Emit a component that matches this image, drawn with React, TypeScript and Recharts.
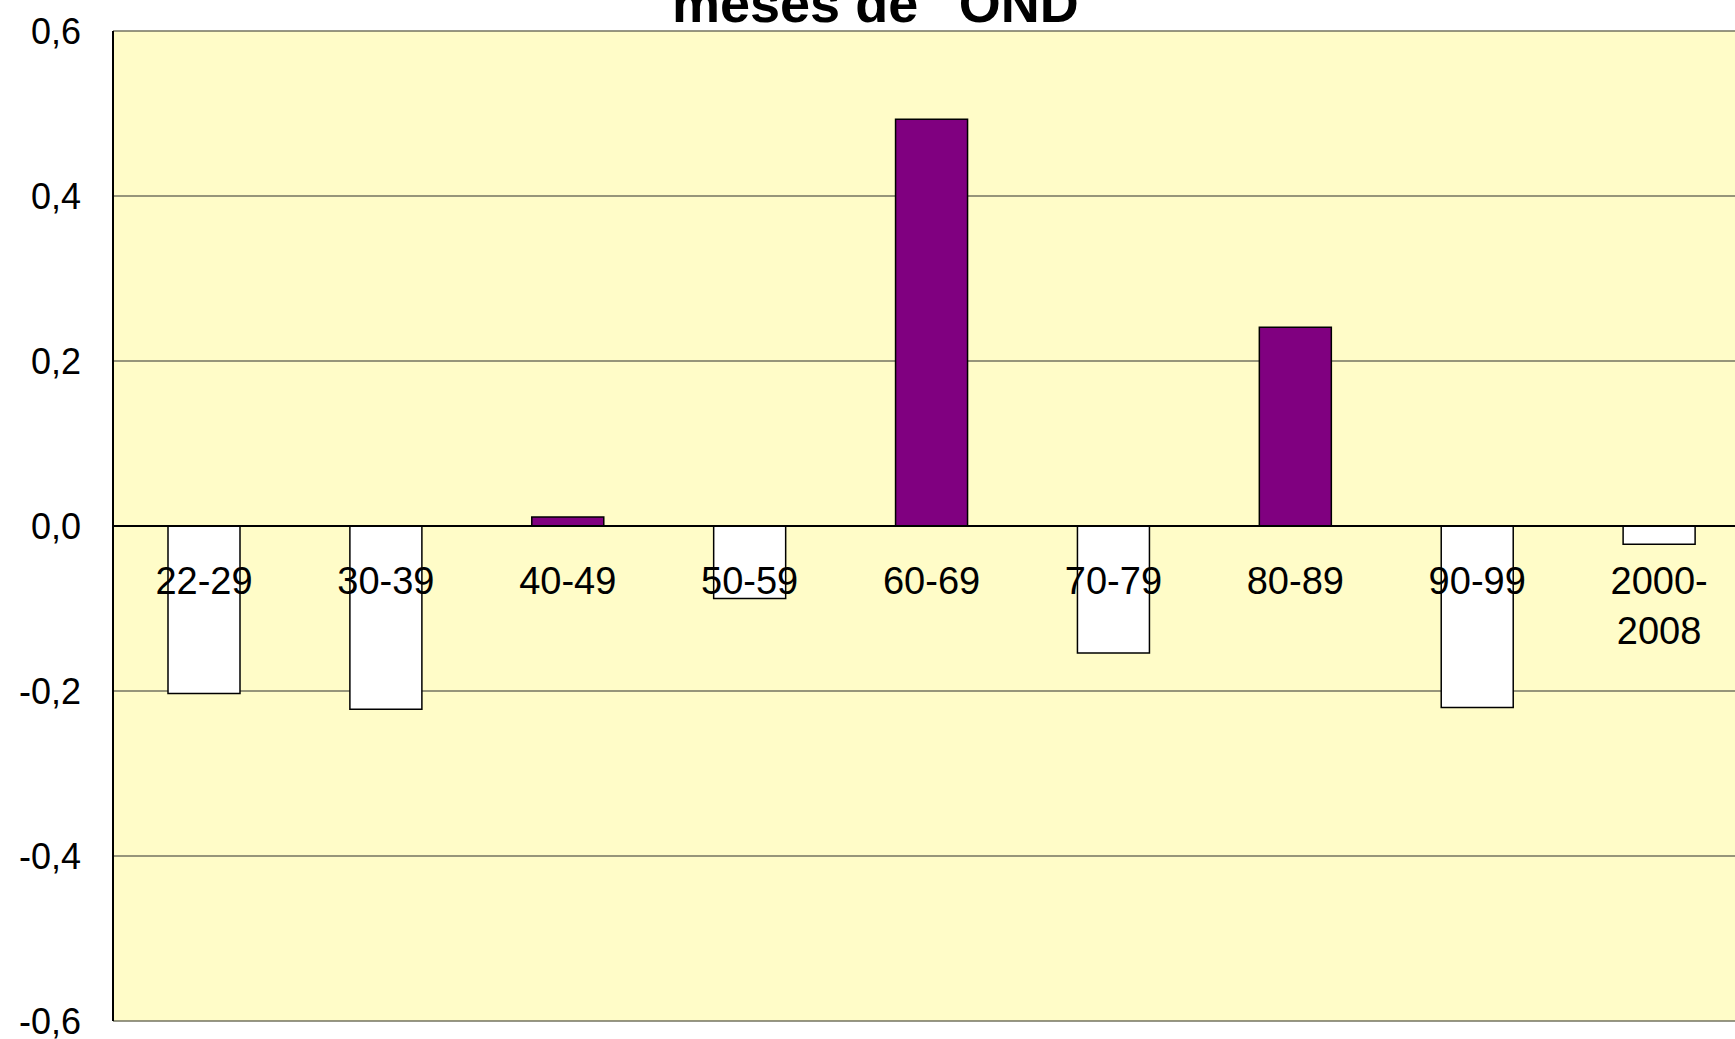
import React from "react";
import {
  Bar,
  BarChart,
  CartesianGrid,
  Cell,
  LabelList,
  ReferenceLine,
  XAxis,
  YAxis,
} from "recharts";

// decades on the x axis
const categories = [
  "22-29",
  "30-39",
  "40-49",
  "50-59",
  "60-69",
  "70-79",
  "80-89",
  "90-99",
  "2000-2008",
];

// values
const values = [-0.203, -0.222, 0.011, -0.088, 0.493, -0.154, 0.241, -0.22, -0.022];

const yTicks = [-0.6, -0.4, -0.2, 0, 0.2, 0.4, 0.6];

// title is cut by the top edge in the original, only its last words show
const titleStart = "meses de ";
const titleQuoted = "OND";

const FONT = '"Liberation Sans", Arial, sans-serif';

const data = categories.map((cat, i) => ({ cat, value: values[i] }));

const fmt = (v: number) => v.toFixed(1).replace(".", ",");

// category labels sit just under the zero line, like the Excel original
const CategoryLabel = (props: any) => {
  const vb = props.viewBox ?? props;
  const { x, y, width, height } = vb;
  const v = values[props.index] ?? 0;
  const top = Math.min(y, y + height);
  const bottom = Math.max(y, y + height);
  const base = v >= 0 ? bottom : top;
  const text = String(props.value ?? categories[props.index]);
  const lines = text.length > 5 ? text.replace(/-/, "-\n").split("\n") : [text];
  return (
    <text
      x={x + width / 2}
      y={base + 68}
      textAnchor="middle"
      fontFamily={FONT}
      fontSize={38}
      fill="#000"
    >
      {lines.map((l, i) => (
        <tspan key={i} x={x + width / 2} dy={i === 0 ? 0 : 50}>
          {l}
        </tspan>
      ))}
    </text>
  );
};

export default function App() {
  return (
    <div
      style={{
        position: "absolute",
        top: 0,
        left: 0,
        width: 1735,
        height: 1039,
        overflow: "hidden",
        background: "#fff",
      }}
    >
      <BarChart
        width={1760}
        height={1039}
        data={data}
        margin={{ top: 31, right: 10, bottom: 18, left: 0 }}
      >
        <CartesianGrid
          vertical={false}
          fill="#FFFCC8"
          stroke="#737360"
          strokeWidth={1.5}
        />
        <XAxis dataKey="cat" hide />
        <YAxis
          width={113}
          domain={[-0.6, 0.6]}
          ticks={yTicks}
          tickFormatter={fmt}
          tickSize={0}
          tickMargin={32}
          axisLine={{ stroke: "#000", strokeWidth: 2 }}
          tick={{ fill: "#000", fontSize: 36, fontFamily: FONT }}
          interval={0}
        />
        <Bar
          dataKey="value"
          barSize={72}
          stroke="#000"
          strokeWidth={1.5}
          isAnimationActive={false}
        >
          {data.map((d, i) => (
            <Cell key={i} fill={d.value >= 0 ? "#800080" : "#ffffff"} />
          ))}
          <LabelList dataKey="cat" content={CategoryLabel} />
        </Bar>
        <ReferenceLine y={0} stroke="#000" strokeWidth={2} />
      </BarChart>
      <svg
        width={1735}
        height={1039}
        style={{ position: "absolute", top: 0, left: 0, pointerEvents: "none" }}
      >
        <text x={672} y={22} fontFamily={FONT} fontSize={54} fontWeight="bold" fill="#000">
          {titleStart}
          <tspan dy={-16}>"</tspan>
          <tspan dy={16}>{titleQuoted}</tspan>
          <tspan dy={-16}>"</tspan>
        </text>
      </svg>
    </div>
  );
}
